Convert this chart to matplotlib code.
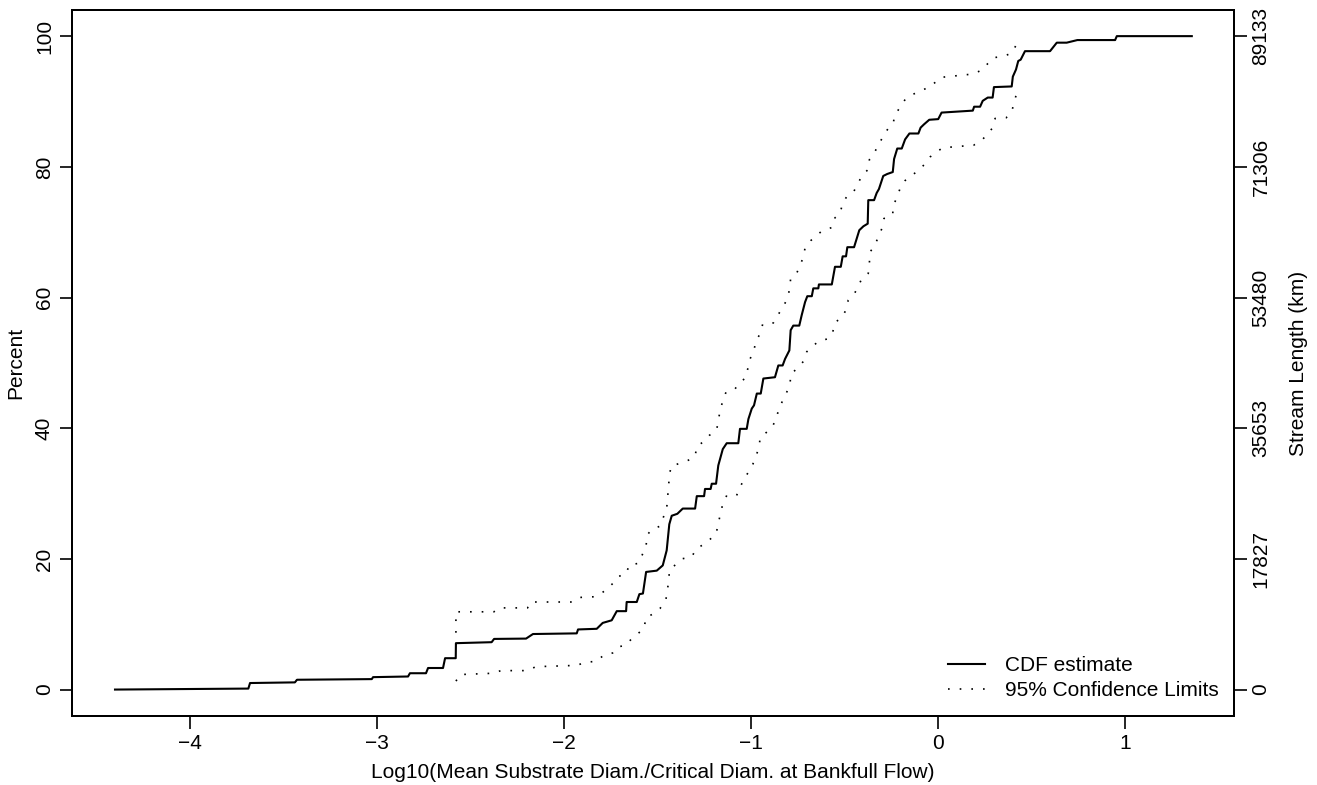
import matplotlib
matplotlib.use("Agg")
import matplotlib.pyplot as plt

plt.rcParams['font.family'] = ['Liberation Sans', 'DejaVu Sans']

# CDF estimate (x = log10 ratio, y = percent)
cdf_x = [-4.401, -3.688, -3.679, -3.439, -3.428, -3.028, -3.021, -2.834, -2.824, -2.738, -2.727,
         -2.647, -2.636, -2.579, -2.578, -2.387, -2.374, -2.203, -2.166, -1.932, -1.925, -1.825,
         -1.793, -1.745, -1.718, -1.668, -1.665, -1.611, -1.597, -1.578, -1.561, -1.504, -1.472,
         -1.451, -1.437, -1.424, -1.394, -1.365, -1.299, -1.290, -1.251, -1.246, -1.216, -1.210,
         -1.187, -1.175, -1.151, -1.130, -1.068, -1.059, -1.023, -1.014, -0.996, -0.984, -0.969,
         -0.948, -0.934, -0.872, -0.854, -0.831, -0.818, -0.795, -0.788, -0.774, -0.742, -0.729,
         -0.711, -0.699, -0.675, -0.667, -0.640, -0.637, -0.568, -0.551, -0.520, -0.510, -0.492,
         -0.485, -0.449, -0.435, -0.421, -0.399, -0.376, -0.373, -0.342, -0.328, -0.316, -0.293,
         -0.272, -0.242, -0.235, -0.218, -0.194, -0.176, -0.153, -0.105, -0.093, -0.075, -0.047,
         0.001, 0.019, 0.186, 0.193, 0.225, 0.239, 0.266, 0.292, 0.299, 0.394, 0.400, 0.417,
         0.429, 0.442, 0.465, 0.599, 0.635, 0.688, 0.745, 0.947, 0.956, 1.357]
cdf_y = [0.0, 0.15, 1.0, 1.1, 1.5, 1.6, 1.9, 2.0, 2.5, 2.5, 3.3,
         3.3, 4.8, 4.8, 7.1, 7.25, 7.75, 7.8, 8.5, 8.6, 9.2, 9.3,
         10.2, 10.6, 12.0, 12.0, 13.4, 13.4, 14.6, 14.7, 18.0, 18.2, 19.0,
         21.3, 25.3, 26.6, 26.9, 27.7, 27.7, 29.6, 29.6, 30.7, 30.7, 31.5,
         31.5, 34.3, 36.8, 37.7, 37.7, 39.9, 39.9, 41.4, 43.0, 43.5, 45.3,
         45.3, 47.6, 47.8, 49.6, 49.6, 50.6, 51.9, 55.0, 55.7, 55.7, 57.3,
         59.3, 60.2, 60.2, 61.4, 61.4, 62.0, 62.0, 64.7, 64.7, 66.3, 66.3,
         67.7, 67.7, 69.0, 70.3, 70.9, 71.3, 74.9, 74.9, 76.0, 76.6, 78.6,
         78.9, 79.2, 81.2, 82.8, 82.8, 84.2, 85.1, 85.1, 86.0, 86.5, 87.2,
         87.3, 88.3, 88.6, 89.2, 89.2, 90.1, 90.6, 90.6, 92.2, 92.3, 93.8, 94.9,
         96.2, 96.4, 97.7, 97.7, 99.0, 99.0, 99.4, 99.4, 100.0, 100.0]

# 95% confidence limits
upper_x = [-2.578, -2.578, -2.375, -2.346, -2.195, -2.180, -1.953, -1.915, -1.840, -1.802, -1.769,
           -1.737, -1.710, -1.668, -1.651, -1.603, -1.561, -1.557, -1.531, -1.487, -1.451, -1.437,
           -1.428, -1.383, -1.335, -1.299, -1.290, -1.251, -1.223, -1.184, -1.166, -1.152, -1.134,
           -1.086, -1.059, -1.029, -1.005, -0.984, -0.973, -0.948, -0.938, -0.881, -0.854, -0.831,
           -0.809, -0.795, -0.788, -0.756, -0.738, -0.720, -0.711, -0.681, -0.649, -0.616, -0.568,
           -0.551, -0.524, -0.510, -0.485, -0.449, -0.426, -0.403, -0.373, -0.367, -0.342, -0.319,
           -0.293, -0.266, -0.239, -0.232, -0.203, -0.176, -0.141, -0.096, -0.047, -0.016, 0.019,
           0.186, 0.234, 0.266, 0.296, 0.349, 0.394, 0.421]
upper_y = [8.7, 11.9, 11.9, 12.5, 12.5, 13.4, 13.4, 14.1, 14.2, 14.7, 15.4,
           16.3, 17.3, 17.7, 19.1, 19.3, 21.9, 23.6, 24.5, 25.0, 27.7, 32.5,
           34.2, 34.6, 35.1, 35.7, 37.2, 38.0, 38.9, 39.7, 42.6, 44.1, 45.5,
           46.0, 47.0, 47.7, 50.6, 52.0, 53.4, 54.6, 55.9, 56.1, 57.4, 58.5,
           59.6, 61.1, 62.9, 63.7, 64.9, 66.2, 67.6, 68.7, 69.5, 70.3, 70.7,
           72.2, 72.9, 74.4, 75.6, 76.3, 77.6, 78.8, 79.6, 81.1, 82.1, 83.3,
           84.7, 85.9, 86.7, 87.9, 89.1, 90.3, 91.0, 91.6, 92.2, 92.9, 93.7,
           94.2, 94.8, 95.8, 96.7, 96.9, 97.4, 98.8]
lower_x = [-2.578, -2.553, -2.375, -2.338, -2.199, -2.150, -1.932, -1.884, -1.829, -1.790, -1.740,
           -1.715, -1.668, -1.638, -1.603, -1.571, -1.563, -1.522, -1.487, -1.456, -1.439, -1.437,
           -1.401, -1.371, -1.317, -1.294, -1.255, -1.223, -1.187, -1.166, -1.152, -1.130, -1.077,
           -1.059, -1.030, -0.990, -0.956, -0.952, -0.916, -0.889, -0.863, -0.854, -0.831, -0.806,
           -0.791, -0.788, -0.756, -0.717, -0.702, -0.640, -0.586, -0.563, -0.551, -0.515, -0.492,
           -0.480, -0.449, -0.426, -0.408, -0.373, -0.367, -0.364, -0.342, -0.319, -0.301, -0.289,
           -0.242, -0.241, -0.218, -0.203, -0.176, -0.141, -0.105, -0.075, -0.043, -0.007, 0.025,
           0.099, 0.190, 0.235, 0.264, 0.293, 0.305, 0.364, 0.394, 0.406, 0.421]
lower_y = [1.3, 2.3, 2.5, 2.9, 2.9, 3.5, 3.7, 4.2, 4.3, 5.2, 5.6,
           6.5, 6.8, 7.8, 8.6, 9.4, 11.0, 11.6, 12.4, 13.6, 16.8, 18.2,
           19.2, 20.0, 20.3, 21.5, 22.2, 22.9, 23.8, 26.6, 28.3, 29.7, 29.7,
           31.0, 32.5, 34.5, 37.1, 38.5, 39.4, 40.1, 41.5, 42.8, 44.2, 45.7,
           46.8, 48.2, 49.1, 50.3, 51.7, 53.3, 53.7, 54.7, 56.2, 56.9, 58.1,
           59.6, 60.5, 61.7, 62.9, 63.7, 65.3, 67.0, 67.7, 69.3, 70.5, 72.1,
           72.7, 74.0, 75.4, 76.7, 77.9, 78.7, 79.4, 80.3, 81.5, 82.3, 82.9,
           83.1, 83.3, 84.1, 85.0, 86.0, 87.4, 87.5, 88.4, 89.8, 91.3]

x_ticks = [-4, -3, -2, -1, 0, 1]
pct_ticks = [0, 20, 40, 60, 80, 100]
km_labels = ["0", "17827", "35653", "53480", "71306", "89133"]

W, H = 1317, 785
fig = plt.figure(figsize=(W / 100, H / 100), dpi=100)
ax = fig.add_axes([72 / W, (H - 715.7) / H, (1233.5 - 72) / W, (715.7 - 10) / H])

ax.plot(cdf_x, cdf_y, color="black", lw=1.5, label="CDF estimate")
ax.plot(upper_x, upper_y, color="black", lw=1.2, ls=(0, (1, 6)), label="95% Confidence Limits")
ax.plot(lower_x, lower_y, color="black", lw=1.2, ls=(0, (1, 6)))

ax.set_xlim(-4.631, 1.580)
ax.set_ylim(-4, 104)
ax.set_xticks(x_ticks)
ax.set_yticks(pct_ticks)
for s in ax.spines.values():
    s.set_linewidth(1.4)
ax.tick_params(direction="out", length=9, width=1.2, labelsize=15, pad=4)
ax.tick_params(axis="y", labelrotation=90)
for lab in ax.get_yticklabels():
    lab.set_va("center")

ax2 = ax.twinx()
ax2.set_ylim(-4, 104)
ax2.set_yticks(pct_ticks, labels=km_labels)
ax2.tick_params(direction="out", length=9, width=1.2, labelsize=15, pad=4, labelrotation=90)
for lab in ax2.get_yticklabels():
    lab.set_va("center")
for s in ax2.spines.values():
    s.set_linewidth(1.4)

fig.text((72 + 1233.5) / 2 / W, 1 - 773 / H, "Log10(Mean Substrate Diam./Critical Diam. at Bankfull Flow)",
         ha="center", va="center", fontsize=15)
fig.text(16 / W, 1 - 363 / H, "Percent", rotation=90, ha="center", va="center", fontsize=15)
fig.text(1298 / W, 1 - 363 / H, "Stream Length (km)", rotation=90, ha="center", va="center", fontsize=15)

ax.legend(loc="upper left", bbox_to_anchor=(948 / W, 1 - 656 / H), bbox_transform=fig.transFigure,
          frameon=False, fontsize=15, handlelength=1.8, handletextpad=0.95, borderpad=0,
          borderaxespad=0, labelspacing=0.3)

fig.savefig("out.png", dpi=100)
